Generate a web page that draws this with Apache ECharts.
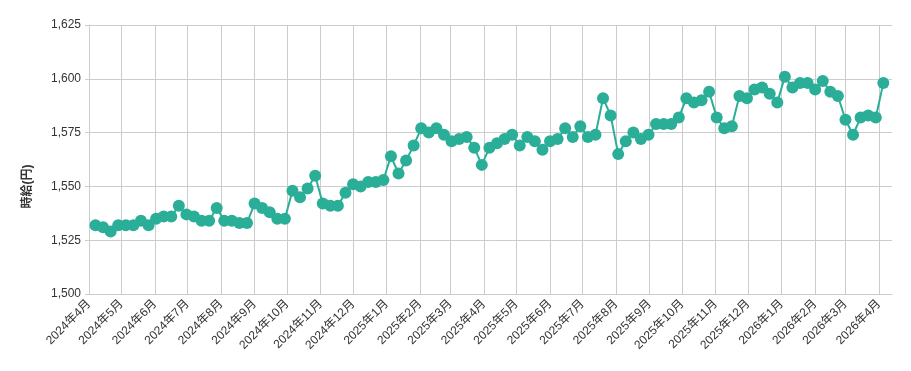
<!DOCTYPE html>
<html>
<head>
<meta charset="utf-8">
<script src="https://cdn.jsdelivr.net/npm/echarts@6/dist/echarts.min.js"></script>
<style>
html,body{margin:0;padding:0;background:#fff;}
#chart{width:911px;height:371px;}
</style>
</head>
<body>
<div id="chart"></div>
<script>
const weekDates = [
'2024-04-07','2024-04-14','2024-04-21','2024-04-28',
'2024-05-05','2024-05-12','2024-05-19','2024-05-26',
'2024-06-02','2024-06-09','2024-06-16','2024-06-23','2024-06-30',
'2024-07-07','2024-07-14','2024-07-21','2024-07-28',
'2024-08-04','2024-08-11','2024-08-18','2024-08-25',
'2024-09-01','2024-09-08','2024-09-15','2024-09-22','2024-09-29',
'2024-10-06','2024-10-13','2024-10-20','2024-10-27',
'2024-11-03','2024-11-10','2024-11-17','2024-11-24',
'2024-12-01','2024-12-08','2024-12-15','2024-12-22','2024-12-29',
'2025-01-05','2025-01-12','2025-01-19','2025-01-26',
'2025-02-02','2025-02-09','2025-02-16','2025-02-23',
'2025-03-02','2025-03-09','2025-03-16','2025-03-23','2025-03-30',
'2025-04-06','2025-04-13','2025-04-20','2025-04-27',
'2025-05-04','2025-05-11','2025-05-18','2025-05-25',
'2025-06-01','2025-06-08','2025-06-15','2025-06-22','2025-06-29',
'2025-07-06','2025-07-13','2025-07-20','2025-07-27',
'2025-08-03','2025-08-10','2025-08-17','2025-08-24','2025-08-31',
'2025-09-07','2025-09-14','2025-09-21','2025-09-28',
'2025-10-05','2025-10-12','2025-10-19','2025-10-26',
'2025-11-02','2025-11-09','2025-11-16','2025-11-23','2025-11-30',
'2025-12-07','2025-12-14','2025-12-21','2025-12-28',
'2026-01-04','2026-01-11','2026-01-18','2026-01-25',
'2026-02-01','2026-02-08','2026-02-15','2026-02-22',
'2026-03-01','2026-03-08','2026-03-15','2026-03-22','2026-03-29',
'2026-04-05'
];

const hourlyWage = [
1532,1531,1529,1532,
1532,1532,1534,1532,
1535,1536,1536,1541,1537,
1536,1534,1534,1540,
1534,1534,1533,1533,
1542,1540,1538,1535,1535,
1548,1545,1549,1555,
1542,1541,1541,1547,
1551,1550,1552,1552,1553,
1564,1556,1562,1569,
1577,1575,1577,1574,
1571,1572,1573,1568,1560,
1568,1570,1572,1574,
1569,1573,1571,1567,
1571,1572,1577,1573,1578,
1573,1574,1591,1583,
1565,1571,1575,1572,1574,
1579,1579,1579,1582,
1591,1589,1590,1594,
1582,1577,1578,1592,1591,
1595,1596,1593,1589,
1601,1596,1598,1598,
1595,1599,1594,1592,
1581,1574,1582,1583,1582,
1598
];

const monthTicks = [
'2024-04-01','2024-05-01','2024-06-01','2024-07-01','2024-08-01','2024-09-01',
'2024-10-01','2024-11-01','2024-12-01','2025-01-01','2025-02-01','2025-03-01',
'2025-04-01','2025-05-01','2025-06-01','2025-07-01','2025-08-01','2025-09-01',
'2025-10-01','2025-11-01','2025-12-01','2026-01-01','2026-02-01','2026-03-01',
'2026-04-01'
];

const yTicks = [1500, 1525, 1550, 1575, 1600, 1625];
const axisTitle = '時給(円)';

function toTime(s) {
  const p = s.split('-').map(Number);
  return Date.UTC(p[0], p[1] - 1, p[2]);
}

const tickTimes = monthTicks.map(toTime);
const seriesData = weekDates.map((d, i) => [toTime(d), hourlyWage[i]]);

const FONT = '"Liberation Sans", Arial, "Noto Sans CJK JP", sans-serif';
const GRID_COLOR = '#cccccc';

const chart = echarts.init(document.getElementById('chart'), null, {renderer: 'canvas'});
chart.setOption({
  animation: false,
  backgroundColor: '#ffffff',
  grid: {left: 89, right: 19, top: 25, bottom: 77, containLabel: false},
  xAxis: {
    type: 'value',
    scale: true,
    min: toTime('2024-04-01'),
    max: toTime('2026-04-13'),
    axisLine: {show: true, lineStyle: {color: GRID_COLOR, width: 1}},
    axisTick: {show: false, customValues: tickTimes},
    splitLine: {show: true, lineStyle: {color: GRID_COLOR, width: 1}},
    axisLabel: {
      customValues: tickTimes,
      rotate: 45,
      color: '#333333',
      fontSize: 12,
      fontFamily: FONT,
      margin: 8,
      showMinLabel: true,
      showMaxLabel: true,
      hideOverlap: false,
      formatter: function (v) {
        const d = new Date(v);
        return d.getUTCFullYear() + '年' + (d.getUTCMonth() + 1) + '月';
      }
    }
  },
  yAxis: {
    type: 'value',
    min: yTicks[0],
    max: yTicks[yTicks.length - 1],
    interval: 25,
    name: axisTitle,
    nameLocation: 'middle',
    nameGap: 55,
    nameRotate: 90,
    nameTextStyle: {
      color: '#333333',
      fontSize: 12,
      fontWeight: 'bold',
      fontFamily: FONT,
      padding: [0, 54, 0, 0]
    },
    axisLine: {show: true, lineStyle: {color: GRID_COLOR, width: 1}},
    axisTick: {show: true, length: 4, lineStyle: {color: GRID_COLOR}},
    splitLine: {show: true, lineStyle: {color: GRID_COLOR, width: 1}},
    axisLabel: {
      color: '#333333',
      fontSize: 12,
      fontFamily: FONT,
      margin: 8,
      formatter: function (v) { return v.toLocaleString('en-US'); }
    }
  },
  series: [{
    type: 'line',
    data: seriesData,
    symbol: 'circle',
    symbolSize: 12,
    showAllSymbol: true,
    lineStyle: {color: '#2bae98', width: 2},
    itemStyle: {color: '#2bae98', borderWidth: 0},
    emphasis: {disabled: true}
  }]
});
</script>
</body>
</html>
